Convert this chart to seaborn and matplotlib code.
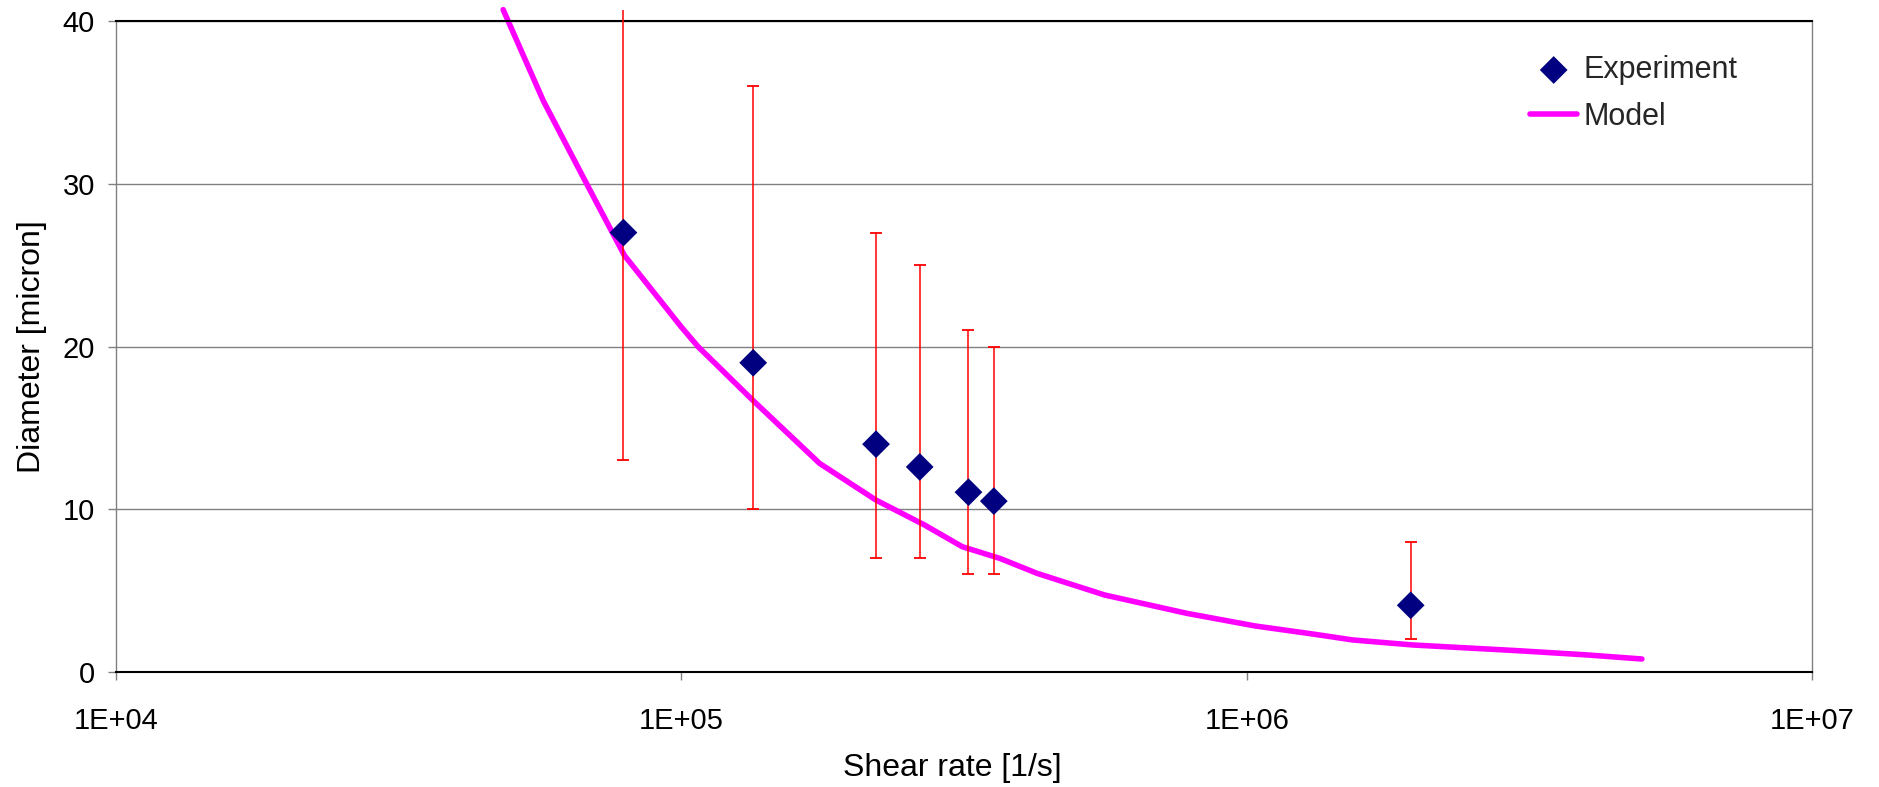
import numpy as np
import pandas as pd
import matplotlib
matplotlib.use("Agg")
import matplotlib.pyplot as plt
import seaborn as sns
from matplotlib.ticker import FixedLocator, FixedFormatter, NullLocator

# ---- data ----
exp_rate = [7.9e4, 1.34e5, 2.21e5, 2.64e5, 3.22e5, 3.57e5, 1.95e6]
exp_diam = [27.0, 19.0, 14.0, 12.6, 11.05, 10.5, 4.1]
exp_low = [13.0, 10.0, 7.0, 7.0, 6.0, 6.0, 2.0]
exp_high = [40.7, 36.0, 27.0, 25.0, 21.0, 20.0, 8.0]

model_rate = [4.84e4, 5.7e4, 6.8e4, 7.93e4, 1.0e5, 1.07e5, 1.333e5,
              1.756e5, 2.208e5, 2.694e5, 3.14e5, 3.66e5,
              4.26e5, 5.61e5, 7.85e5, 1.035e6, 1.3e6, 1.54e6, 1.97e6,
              3.02e6, 4.0e6, 5.0e6]
model_diam = [40.7, 35.1, 30.0, 25.6, 21.2, 20.0, 16.75,
              12.82, 10.57, 9.03, 7.70, 6.98,
              6.06, 4.73, 3.60, 2.83, 2.35, 1.97, 1.66,
              1.31, 1.05, 0.80]

x_ticks = [1e4, 1e5, 1e6, 1e7]
x_tick_labels = ["1E+04", "1E+05", "1E+06", "1E+07"]
y_ticks = [0, 10, 20, 30, 40]

sns.set_theme(style="white")
plt.rcParams['font.family'] = ['Liberation Sans', 'DejaVu Sans']

fig = plt.figure(figsize=(18.79, 7.87), dpi=100)
ax = fig.add_axes([0.0617, 0.1461, 0.9027, 0.8272])

model_df = pd.DataFrame({"rate": model_rate, "diam": model_diam})
exp_df = pd.DataFrame({"rate": exp_rate, "diam": exp_diam})

sns.lineplot(data=model_df, x="rate", y="diam", ax=ax, color="#FF00FF",
             linewidth=4.0, estimator=None, sort=False, label="Model",
             zorder=2, clip_on=False)

yerr = [np.array(exp_diam) - np.array(exp_low), np.array(exp_high) - np.array(exp_diam)]
eb = ax.errorbar(exp_rate, exp_diam, yerr=yerr, fmt="none", ecolor="#FF0000",
                 elinewidth=1.1, capsize=4.5, capthick=1.3, zorder=3)
for cl in eb[1]:
    cl.set_clip_on(True)
for bl in eb[2]:
    bl.set_clip_on(False)

sns.scatterplot(data=exp_df, x="rate", y="diam", ax=ax, marker="D", s=200,
                color="#000080", edgecolor="none", linewidth=0, label="Experiment",
                zorder=4)

ax.set_xscale("log")
ax.set_xlim(1e4, 1e7)
ax.set_ylim(0, 40)
ax.xaxis.set_major_locator(FixedLocator(x_ticks))
ax.xaxis.set_major_formatter(FixedFormatter(x_tick_labels))
ax.xaxis.set_minor_locator(NullLocator())
ax.set_yticks(y_ticks)
ax.set_yticklabels([str(v) for v in y_ticks])

ax.yaxis.grid(True, color="#808080", linewidth=1.0)
ax.xaxis.grid(False)
ax.set_axisbelow(True)

for side in ["top", "bottom"]:
    ax.spines[side].set_color("black")
    ax.spines[side].set_linewidth(1.5)
for side in ["left", "right"]:
    ax.spines[side].set_color("#808080")
    ax.spines[side].set_linewidth(1.0)
    ax.spines[side].set_visible(True)

ax.tick_params(axis="both", which="major", direction="out", length=6,
               width=1, color="#808080", labelsize=21, labelcolor="black")
ax.tick_params(axis="x", pad=19, bottom=True)
ax.tick_params(axis="y", pad=9, left=True)

ax.set_xlabel("Shear rate [1/s]", fontsize=23, color="black")
ax.set_ylabel("Diameter [micron]", fontsize=23, color="black")
ax.xaxis.set_label_coords(0.493, -0.125)
ax.yaxis.set_label_coords(-0.0407, 0.5)

handles, labels = ax.get_legend_handles_labels()
order = [labels.index("Experiment"), labels.index("Model")]
leg = ax.legend([handles[i] for i in order], [labels[i] for i in order],
                loc="upper left", bbox_to_anchor=(1530 / 1879, 1 - 55 / 787),
                bbox_transform=fig.transFigure, frameon=False, fontsize=22,
                handlelength=1.55, handletextpad=0.2, labelspacing=0.55,
                borderpad=0, borderaxespad=0, markerscale=1.0)

fig.savefig("out.png", dpi=100)
